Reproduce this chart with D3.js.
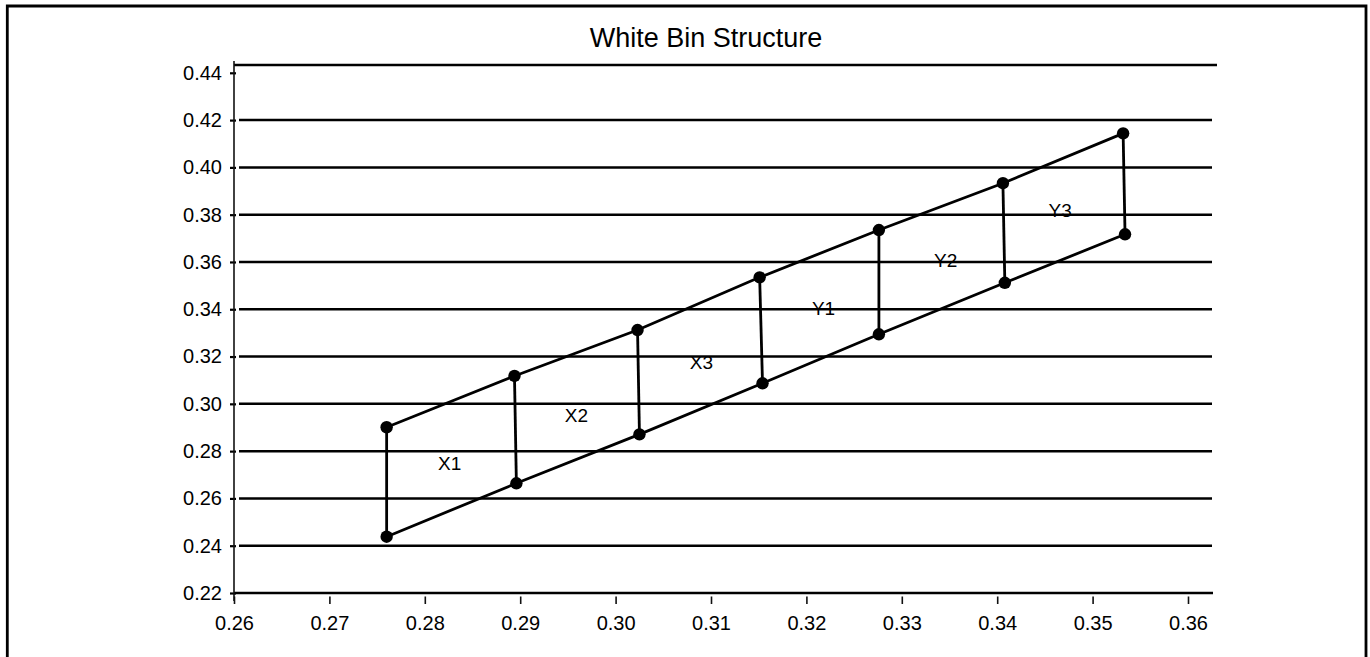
<!DOCTYPE html>
<html>
<head>
<meta charset="utf-8">
<script src="https://cdn.jsdelivr.net/npm/d3@7"></script>
<style>
  html, body { margin: 0; padding: 0; background: #fff; }
  svg { display: block; }
  text { font-family: "Liberation Sans", Arial, Helvetica, sans-serif; fill: #000; }
</style>
</head>
<body>
<script>
// ---- data ----
const chartTitle = "White Bin Structure";
const xTicks = [0.26, 0.27, 0.28, 0.29, 0.30, 0.31, 0.32, 0.33, 0.34, 0.35, 0.36];
const yTicks = [0.22, 0.24, 0.26, 0.28, 0.30, 0.32, 0.34, 0.36, 0.38, 0.40, 0.42, 0.44];
const gridValues = [0.24, 0.26, 0.28, 0.30, 0.32, 0.34, 0.36, 0.38, 0.40, 0.42];
const yTop = 0.4433;

const upperX = [0.2760, 0.2894, 0.3023, 0.3151, 0.3276, 0.3406, 0.3532];
const upperY = [0.2901, 0.3118, 0.3312, 0.3535, 0.3735, 0.3933, 0.4144];
const lowerX = [0.2760, 0.2896, 0.3025, 0.3154, 0.3276, 0.3408, 0.3534];
const lowerY = [0.2438, 0.2664, 0.2871, 0.3087, 0.3294, 0.3512, 0.3717];

const binLabels = ["X1", "X2", "X3", "Y1", "Y2", "Y3"];
const binLabelX = [0.2826, 0.2959, 0.3090, 0.3218, 0.3346, 0.3466];
const binLabelY = [0.2750, 0.2953, 0.3177, 0.3405, 0.3605, 0.3817];

// ---- layout ----
const W = 1370, H = 657;
const axisX = 234, gridRight = 1212;

const svg = d3.select("body").append("svg").attr("width", W).attr("height", H);

const x = d3.scaleLinear().domain([0.26, 0.36]).range([234, 1188]);
const y = d3.scaleLinear().domain([0.22, 0.44]).range([593, 72.8]);

// outer frame (no bottom edge visible)
svg.append("path")
  .attr("d", `M7.3,${H + 10} L7.3,6 L1366,6 L1366,${H + 10}`)
  .attr("fill", "none").attr("stroke", "#000").attr("stroke-width", 2.8);

// title
svg.append("text")
  .attr("x", 706).attr("y", 46.5)
  .attr("text-anchor", "middle")
  .style("font-size", "27px")
  .text(chartTitle);

// gridlines
svg.append("g").selectAll("line").data(gridValues).join("line")
  .attr("x1", axisX + 5).attr("x2", gridRight)
  .attr("y1", d => y(d)).attr("y2", d => y(d))
  .attr("stroke", "#000").attr("stroke-width", 2.5);

// top border line
svg.append("line")
  .attr("x1", axisX).attr("x2", 1217)
  .attr("y1", y(yTop)).attr("y2", y(yTop))
  .attr("stroke", "#000").attr("stroke-width", 2.5);

// x axis line (0.22)
svg.append("line")
  .attr("x1", axisX).attr("x2", gridRight + 1)
  .attr("y1", y(0.22)).attr("y2", y(0.22))
  .attr("stroke", "#000").attr("stroke-width", 2.6);

// y axis
const yAxis = d3.axisLeft(y).tickValues(yTicks).tickFormat(d3.format(".2f"))
  .tickSizeInner(4).tickSizeOuter(0).tickPadding(8);
const gy = svg.append("g").attr("transform", `translate(${axisX},0)`).call(yAxis);
gy.select(".domain").remove();
gy.selectAll(".tick line").attr("x1", 2).attr("x2", -4).attr("stroke", "#000").attr("stroke-width", 2.2);
gy.selectAll(".tick text").style("font-size", "20px").attr("fill", "#000");
gy.append("line").attr("x1", 0).attr("x2", 0).attr("y1", 61).attr("y2", 601)
  .attr("stroke", "#111").attr("stroke-width", 1.6);

// x axis ticks/labels
const xAxis = d3.axisBottom(x).tickValues(xTicks).tickFormat(d3.format(".2f"))
  .tickSizeInner(8).tickSizeOuter(0);
const gx = svg.append("g").attr("transform", `translate(0,${y(0.22)})`).call(xAxis);
gx.select(".domain").remove();
gx.selectAll(".tick line").attr("y1", 3.5).attr("y2", 11).attr("stroke", "#111").attr("stroke-width", 1.6);
gx.selectAll(".tick text").attr("y", 37).attr("dy", null).style("font-size", "20px").attr("fill", "#000");

// bin structure
const upperPts = upperX.map((v, i) => [v, upperY[i]]);
const lowerPts = lowerX.map((v, i) => [v, lowerY[i]]);
const line = d3.line().x(d => x(d[0])).y(d => y(d[1]));

const gb = svg.append("g");
gb.append("path").attr("d", line(upperPts)).attr("fill", "none").attr("stroke", "#000").attr("stroke-width", 2.8);
gb.append("path").attr("d", line(lowerPts)).attr("fill", "none").attr("stroke", "#000").attr("stroke-width", 2.8);
gb.selectAll("line.conn").data(upperPts).join("line").attr("class", "conn")
  .attr("x1", d => x(d[0])).attr("y1", d => y(d[1]))
  .attr("x2", (d, i) => x(lowerPts[i][0])).attr("y2", (d, i) => y(lowerPts[i][1]))
  .attr("stroke", "#000").attr("stroke-width", 2.8);
gb.selectAll("circle").data(upperPts.concat(lowerPts)).join("circle")
  .attr("cx", d => x(d[0])).attr("cy", d => y(d[1])).attr("r", 6.2).attr("fill", "#000");

// bin labels
svg.append("g").selectAll("text").data(binLabels).join("text")
  .attr("x", (d, i) => x(binLabelX[i]))
  .attr("y", (d, i) => y(binLabelY[i]))
  .attr("dy", "0.35em")
  .attr("text-anchor", "middle")
  .style("font-size", "19px")
  .attr("fill", "#111")
  .text(d => d);
</script>
</body>
</html>
